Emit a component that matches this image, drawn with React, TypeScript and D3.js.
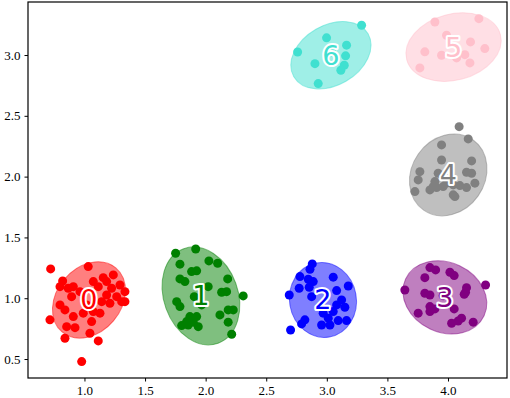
import React, { useRef, useEffect } from "react";
import * as d3 from "d3";

const colors = ["red", "green", "blue", "purple", "gray", "pink", "turquoise"];
const labels = ["0", "1", "2", "3", "4", "5", "6"];

const pts0: [number, number][] = [
  [0.721, 1.241], [1.031, 1.26], [0.82, 1.142], [0.798, 1.095], [0.866, 1.082], [0.908, 1.095],
  [1.073, 1.137], [1.155, 1.169], [1.238, 1.192], [1.183, 1.137], [1.114, 1.095], [1.224, 1.082],
  [1.293, 1.109], [1.334, 1.054], [1.334, 0.972], [1.266, 1.013], [1.21, 0.959], [1.142, 0.972],
  [0.798, 0.945], [0.839, 0.904], [0.908, 0.849], [0.99, 0.877], [1.073, 0.89], [1.128, 0.877],
  [1.059, 0.808], [0.715, 0.822], [0.853, 0.766], [0.922, 0.758], [1.045, 0.712], [0.839, 0.671],
  [1.114, 0.649], [0.977, 0.479], [0.894, 1.013], [0.963, 1.054], [1.018, 0.945], [1.183, 1.027],
  [1.307, 0.972],
];
const pts1: [number, number][] = [
  [1.752, 1.37], [1.918, 1.405], [1.788, 1.28], [2.027, 1.307], [2.099, 1.288], [1.884, 1.219],
  [1.926, 1.225], [1.788, 1.159], [1.829, 1.137], [2.182, 1.159], [2.021, 1.095], [2.132, 1.049],
  [2.173, 1.054], [1.906, 1.013], [2.31, 1.019], [1.761, 0.972], [1.788, 0.931], [1.967, 0.945],
  [2.118, 0.863], [2.186, 0.904], [2.228, 0.904], [1.87, 0.849], [1.926, 0.849], [1.843, 0.808],
  [1.939, 0.766], [1.802, 0.775], [2.186, 0.803], [2.215, 0.704], [1.856, 0.78], [1.898, 0.803],
];
const pts2: [number, number][] = [
  [2.88, 1.282], [2.861, 1.238], [2.778, 1.178], [2.847, 1.156], [2.888, 1.137], [3.053, 1.173],
  [2.772, 1.082], [2.855, 1.09], [2.69, 1.027], [2.875, 1.013], [3.081, 1.063], [3.177, 1.101],
  [3.122, 0.986], [3.149, 0.926], [2.97, 0.877], [3.053, 0.89], [3.012, 0.836], [3.094, 0.816],
  [3.163, 0.816], [2.819, 0.822], [2.792, 0.789], [2.957, 0.78], [3.026, 0.78], [2.701, 0.739],
  [3.081, 0.945],
];
const pts3: [number, number][] = [
  [3.851, 1.252], [3.898, 1.233], [3.809, 1.169], [4.016, 1.214], [4.051, 1.186], [3.644, 1.068],
  [3.809, 1.041], [3.851, 1.027], [4.002, 1.054], [4.153, 1.087], [4.145, 1.049], [4.134, 1.033],
  [4.31, 1.109], [3.851, 0.931], [3.892, 0.912], [3.851, 0.89], [4.051, 0.912], [3.754, 0.877],
  [4.03, 0.794], [4.084, 0.813], [4.112, 0.836], [4.208, 0.803], [3.96, 1.021],
];
const pts4: [number, number][] = [
  [4.092, 2.411], [4.167, 2.31], [3.947, 2.261], [3.947, 2.137], [4.195, 2.129], [3.768, 2.041],
  [3.919, 2.028], [4.153, 2.036], [4.195, 2.028], [3.754, 1.973], [3.892, 1.959], [4.222, 1.946],
  [3.727, 1.877], [3.851, 1.891], [3.906, 1.91], [3.96, 1.918], [4.043, 1.932], [4.098, 1.926],
  [4.153, 1.91], [4.043, 1.85], [4.057, 1.836], [3.878, 1.918], [3.988, 1.946],
];
const pts5: [number, number][] = [
  [3.892, 3.272], [4.255, 3.299], [3.988, 3.163], [4.186, 3.108], [4.304, 3.053], [3.809, 3.026],
  [3.947, 2.998], [4.071, 2.976], [4.139, 3.003], [4.181, 2.935], [3.768, 2.894],
];
const pts6: [number, number][] = [
  [3.287, 3.245], [2.998, 3.141], [3.163, 3.081], [2.759, 3.025], [3.155, 2.993], [2.902, 2.929],
  [3.144, 2.916], [3.116, 2.875], [2.929, 2.765], [3.04, 3.025],
];
const clusterPoints = [pts0, pts1, pts2, pts3, pts4, pts5, pts6];

// ellipse: centre, full width/height (data units), angle in degrees
const ellCx = [1.037, 1.961, 2.968, 3.974, 4.002, 4.046, 3.034];
const ellCy = [0.986, 1.019, 0.986, 1.007, 2.014, 3.065, 2.998];
const ellW = [0.69, 0.83, 0.62, 0.715, 0.708, 0.8, 0.708];
const ellH = [0.53, 0.61, 0.55, 0.573, 0.601, 0.544, 0.494];
const ellAngle = [50, 110, 100, -25, 55, 15, 30];

const xTicks = [1.0, 1.5, 2.0, 2.5, 3.0, 3.5, 4.0];
const yTicks = [0.5, 1.0, 1.5, 2.0, 2.5, 3.0];

function App() {
  const svgRef = useRef<SVGSVGElement>(null);

  useEffect(() => {
    const w = 510;
    const h = 398;
    const m = { left: 28, right: 3, top: 2, bottom: 20 };
    const svg = d3.select(svgRef.current);
    svg.selectAll("*").remove();

    const x = d3.scaleLinear().domain([0.534, 4.487]).range([m.left, w - m.right]);
    const y = d3.scaleLinear().domain([0.344, 3.436]).range([h - m.bottom, m.top]);

    clusterPoints.forEach((pts, i) => {
      const rx = x(ellCx[i] + ellW[i] / 2) - x(ellCx[i]);
      const ry = y(ellCy[i]) - y(ellCy[i] + ellH[i] / 2);
      svg
        .append("ellipse")
        .attr("transform", `translate(${x(ellCx[i])},${y(ellCy[i])}) rotate(${-ellAngle[i]})`)
        .attr("rx", rx)
        .attr("ry", ry)
        .attr("fill", colors[i])
        .attr("fill-opacity", 0.5)
        .attr("stroke", colors[i])
        .attr("stroke-opacity", 0.5)
        .attr("stroke-width", 1);

      svg
        .append("g")
        .selectAll("circle")
        .data(pts)
        .join("circle")
        .attr("cx", (d) => x(d[0]))
        .attr("cy", (d) => y(d[1]))
        .attr("r", 4.5)
        .attr("fill", colors[i]);
    });

    // cluster numbers, coloured with a white halo
    clusterPoints.forEach((pts, i) => {
      svg
        .append("text")
        .attr("x", x(ellCx[i]))
        .attr("y", y(ellCy[i]))
        .attr("text-anchor", "middle")
        .attr("dominant-baseline", "central")
        .attr("font-family", "DejaVu Sans")
        .attr("font-size", 27)
        .attr("fill", colors[i])
        .attr("stroke", "white")
        .attr("stroke-width", 4)
        .attr("stroke-linejoin", "round")
        .attr("paint-order", "stroke")
        .text(labels[i]);
    });

    const xAxis = d3.axisBottom(x).tickValues(xTicks).tickFormat(d3.format(".1f")).tickSizeOuter(0).tickSize(3.5).tickPadding(4.5);
    const yAxis = d3.axisLeft(y).tickValues(yTicks).tickFormat(d3.format(".1f")).tickSizeOuter(0).tickSize(3.5).tickPadding(4);
    const gx = svg.append("g").attr("transform", `translate(0,${h - m.bottom})`).call(xAxis);
    const gy = svg.append("g").attr("transform", `translate(${m.left},0)`).call(yAxis);
    [gx, gy].forEach((g) => {
      g.select(".domain").remove();
      g.selectAll("text").attr("font-family", "Liberation Serif").attr("font-size", 13).attr("fill", "black");
      g.selectAll("line").attr("stroke", "black");
    });

    svg
      .append("rect")
      .attr("x", m.left)
      .attr("y", m.top)
      .attr("width", w - m.left - m.right)
      .attr("height", h - m.top - m.bottom)
      .attr("fill", "none")
      .attr("stroke", "black")
      .attr("stroke-width", 1.2);
  }, []);

  return (
    <svg
      ref={svgRef}
      width={510}
      height={398}
      style={{ position: "absolute", left: 0, top: 0, background: "white" }}
    ></svg>
  );
}

export default App;
